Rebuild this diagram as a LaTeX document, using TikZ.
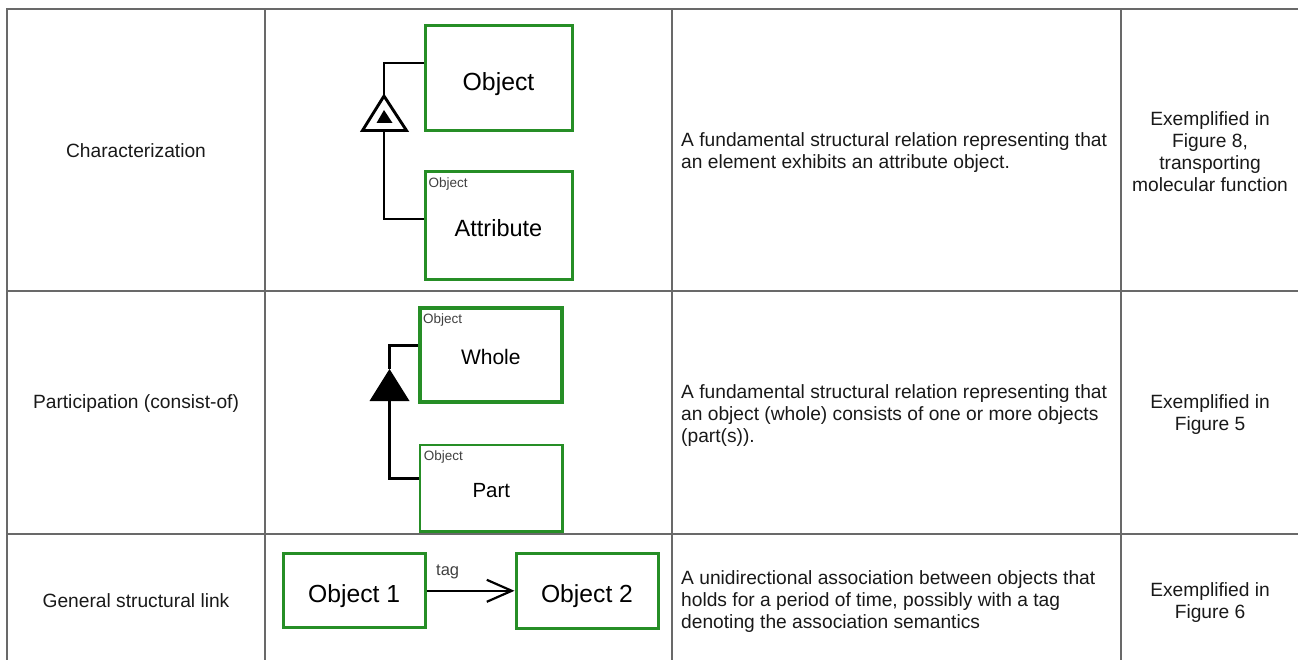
\documentclass[tikz,border=0pt]{standalone}
\usepackage{fontspec}
\setmainfont{Liberation Sans}
\usetikzlibrary{arrows.meta}
\definecolor{objgreen}{RGB}{38,142,38}
\definecolor{rulegray}{RGB}{105,105,105}
\definecolor{txtgray}{RGB}{25,25,25}
\newcommand{\objtext}[2]{\raisebox{-#1pt}[0pt][0pt]{#2}}
\begin{document}
\begin{tikzpicture}[x=1pt,y=-1pt,
    txt/.style={text=txtgray,inner sep=0pt,font=\fontsize{19.2}{22}\selectfont},
    obj/.style={draw=objgreen,line width=3pt,inner sep=0pt,text=black},
    small/.style={text=black!75,inner sep=0pt,anchor=north west,font=\fontsize{13.5}{15}\selectfont},
    link/.style={line width=2.6pt,black}]
    \useasboundingbox (0,0) rectangle (1298,660);
    \draw[rulegray,line width=1.5pt] (7,660) -- (7,9) -- (1298,9);
    \foreach \cx in {265,672,1121}
      \draw[rulegray,line width=1.5pt] (\cx,9) -- (\cx,660);
    \foreach \cy in {291,534}
      \draw[rulegray,line width=1.5pt] (7,\cy) -- (1298,\cy);
    \node[txt] (T0_0) at (136,151) {Characterization};
    \node[txt] (T1_0) at (136,403.5) {Participation (consist-of)};
    \node[txt] (T2_0) at (136,601) {General structural link};
    \node[txt,anchor=west,align=left] (T0_2) at (681,153) {A fundamental structural relation representing that\\an element exhibits an attribute object.};
    \node[txt,anchor=west,align=left] (T1_2) at (681,416) {A fundamental structural relation representing that\\an object (whole) consists of one or more objects\\(part(s)).};
    \node[txt,anchor=west,align=left] (T2_2) at (681,602) {A unidirectional association between objects that\\holds for a period of time, possibly with a tag\\denoting the association semantics};
    \node[txt,align=center] (T0_3) at (1210,152) {Exemplified in\\Figure 8,\\transporting\\molecular function};
    \node[txt,align=center] (T1_3) at (1210,415) {Exemplified in\\Figure 5};
    \node[txt,align=center] (T2_3) at (1210,603) {Exemplified in\\Figure 6};
    \node[obj,minimum width=147pt,minimum height=105pt,font=\fontsize{24.8}{27}\selectfont] (B0_0) at (498.5,78.2) {\objtext{12.4}{Object}};
    \node[obj,minimum width=147pt,minimum height=108pt,font=\fontsize{23.5}{26}\selectfont] (B0_1) at (498.5,226) {\objtext{10.4}{Attribute}};
    \node[small] (S0_1) at ([xshift=5pt,yshift=-7pt]B0_1.north west) {Object};
    \coordinate (K0_0) at (384,96);
    \coordinate (K0_1) at (384,130.5);
    \draw[line width=2.9pt,fill=white] (K0_0) -- (362.5,130.5) -- (406.5,130.5) -- cycle;
    \fill (384,110) -- (376.5,123) -- (392.5,123) -- cycle;
    \draw[link] ([yshift=15pt]B0_0.west) -| (K0_0);
    \draw[link] (K0_1) |- ([yshift=7pt]B0_1.west);
    \node[obj,line width=4.3pt,minimum width=141.7pt,minimum height=94pt,font=\fontsize{21}{24}\selectfont] (B1_0) at (490.8,355.3) {\objtext{9.4}{Whole}};
    \node[small] (S1_0) at ([xshift=5pt,yshift=-7pt]B1_0.north west) {Object};
    \node[obj,line width=2.6pt,minimum width=142.7pt,minimum height=86.7pt,font=\fontsize{20.5}{23}\selectfont] (B1_1) at (491.3,488.3) {\objtext{8.7}{Part}};
    \node[small] (S1_1) at ([xshift=5pt,yshift=-7pt]B1_1.north west) {Object};
    \coordinate (K1_0) at (389.5,369);
    \coordinate (K1_1) at (389.5,401);
    \fill (K1_0) -- (369.5,401) -- (409.5,401) -- cycle;
    \draw[link] ([yshift=10pt]B1_0.west) -| (K1_0);
    \draw[link] (K1_1) |- ([yshift=10pt]B1_1.west);
    \node[obj,minimum width=141.7pt,minimum height=74pt,font=\fontsize{24.7}{27}\selectfont] (B2_0) at (354.2,590.8) {\objtext{11.4}{Object 1}};
    \node[obj,minimum width=142pt,minimum height=74.6pt,font=\fontsize{24.7}{27}\selectfont] (B2_1) at (587,590.8) {\objtext{11.2}{Object 2}};
    \path (B2_0.east) edge [link,-{Straight Barb[length=25pt,width=22pt,line width=2.2pt]}] node [above=11pt,pos=0.24,inner sep=0pt,text=black!75,font=\fontsize{16.5}{18}\selectfont] {tag} (B2_1.west);
\end{tikzpicture}
\end{document}
